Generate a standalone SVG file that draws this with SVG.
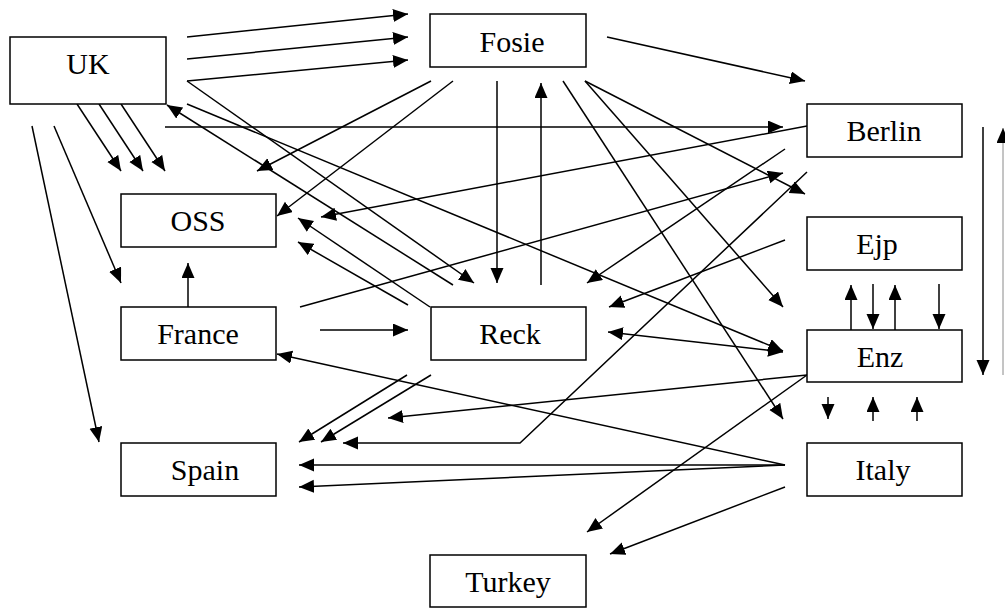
<svg xmlns="http://www.w3.org/2000/svg" width="1005" height="608" viewBox="0 0 1005 608">
  <style>
    .box rect { fill: #fff; stroke: #000; stroke-width: 1.5; }
    .box text { font-family: "Liberation Serif", "Times New Roman", serif; font-size: 30px; fill: #000; text-anchor: middle; }
    #edges path { fill: none; stroke: #000; stroke-width: 1.5; marker-end: url(#arrow); }
    #edges path.both { marker-start: url(#arrow); }
    #edges path.faint { stroke: #8a8a8a; stroke-width: 1; }
  </style>
  <defs>
    <marker id="arrow" markerUnits="userSpaceOnUse" markerWidth="16" markerHeight="14" refX="15" refY="6.5" orient="auto-start-reverse">
      <path d="M0,0 L15,6.5 L0,13 z" fill="#000"/>
    </marker>
  </defs>
  <rect width="1005" height="608" fill="#fff"/>

  <g id="edges">
    <!-- UK -> Fosie -->
    <path d="M187,37 L408,14"/>
    <path d="M187,59 L408,37"/>
    <path d="M187,81 L408,60"/>
    <!-- UK -> OSS -->
    <path d="M77,104 L121,171"/>
    <path d="M99,104 L143,171"/>
    <path d="M121,104 L165,171"/>
    <!-- UK -> France, UK -> Spain -->
    <path d="M54,126 L121,283"/>
    <path d="M32,126 L99,442"/>
    <!-- UK -> Berlin -->
    <path d="M165,127 L783,127"/>
    <!-- Reck -> UK, UK -> Reck, UK -> Enz -->
    <path d="M453,285 L167,105"/>
    <path d="M187,81 L474,283"/>
    <path d="M187,104 L783,351"/>
    <!-- Fosie outgoing -->
    <path d="M607,37 L805,81"/>
    <path d="M431,81 L257,171"/>
    <path d="M453,81 L277,216"/>
    <path d="M497,81 L497,283"/>
    <path d="M563,81 L783,419"/>
    <path d="M585,81 L783,307"/>
    <path d="M585,81 L805,194"/>
    <!-- Reck -> Fosie -->
    <path d="M541,285 L541,83"/>
    <!-- Berlin outgoing -->
    <path d="M807,126 L321,217"/>
    <path d="M785,149 L587,283"/>
    <path d="M807,172 L520,443 L343,443"/>
    <!-- France outgoing -->
    <path d="M300,307 L783,173"/>
    <path d="M188,307 L188,263"/>
    <path d="M320,330 L408,330"/>
    <!-- Reck -> OSS -->
    <path d="M430,307 L298,218"/>
    <path d="M408,305 L298,242"/>
    <!-- Ejp -> Reck, Reck <-> Enz -->
    <path d="M785,240 L609,307"/>
    <path class="both" d="M608,332 L783,352"/>
    <!-- Ejp / Enz -->
    <path d="M851,330 L851,285"/>
    <path d="M873,284 L873,329"/>
    <path d="M895,330 L895,285"/>
    <path d="M939,284 L939,329"/>
    <!-- right-hand side -->
    <path d="M983,127 L983,375"/>
    <path class="faint" d="M1003,375 L1003,128"/>
    <!-- Enz outgoing -->
    <path d="M807,375 L388,418"/>
    <path d="M807,375 L587,532"/>
    <!-- Reck -> Spain -->
    <path d="M407,375 L299,442"/>
    <path d="M431,375 L321,442"/>
    <!-- Italy outgoing -->
    <path d="M785,465 L277,354"/>
    <path d="M785,465 L299,465"/>
    <path d="M785,465 L299,487"/>
    <path d="M785,487 L610,554"/>
    <!-- Enz / Italy -->
    <path d="M828,397 L828,419"/>
    <path d="M873,421 L873,397"/>
    <path d="M917,421 L917,397"/>
  </g>

  <g id="nodes">
    <g id="node-uk" class="box"><rect x="10" y="37" width="156" height="67"/><text x="88" y="74">UK</text></g>
    <g id="node-fosie" class="box"><rect x="430" y="14" width="156" height="53"/><text x="512" y="52">Fosie</text></g>
    <g id="node-berlin" class="box"><rect x="807" y="104" width="155" height="53"/><text x="884" y="141">Berlin</text></g>
    <g id="node-oss" class="box"><rect x="121" y="194" width="155" height="53"/><text x="198" y="231">OSS</text></g>
    <g id="node-france" class="box"><rect x="121" y="307" width="155" height="53"/><text x="198" y="344">France</text></g>
    <g id="node-reck" class="box"><rect x="431" y="307" width="155" height="53"/><text x="510" y="344">Reck</text></g>
    <g id="node-ejp" class="box"><rect x="807" y="217" width="155" height="53"/><text x="877" y="254">Ejp</text></g>
    <g id="node-enz" class="box"><rect x="807" y="330" width="155" height="52"/><text x="880" y="367">Enz</text></g>
    <g id="node-spain" class="box"><rect x="121" y="443" width="155" height="53"/><text x="205" y="480">Spain</text></g>
    <g id="node-italy" class="box"><rect x="807" y="443" width="155" height="53"/><text x="883" y="480">Italy</text></g>
    <g id="node-turkey" class="box"><rect x="430" y="555" width="156" height="52"/><text x="508" y="592">Turkey</text></g>
  </g>
</svg>
